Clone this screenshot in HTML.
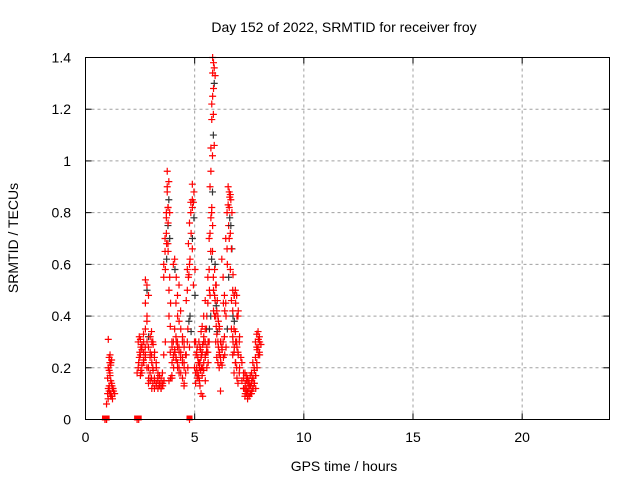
<!DOCTYPE html>
<html><head><meta charset="utf-8"><style>
body{margin:0;background:#fff;}
svg text{font-family:"Liberation Sans",sans-serif;font-size:14px;fill:#000;}
</style></head><body>
<svg id="chart" width="640" height="480" xmlns="http://www.w3.org/2000/svg">
<rect width="640" height="480" fill="#fff"/>
<text x="344" y="32" text-anchor="middle">Day 152 of 2022, SRMTID for receiver froy</text>
<text x="18" y="238" text-anchor="middle" transform="rotate(-90 18 238)">SRMTID / TECUs</text>
<text x="344" y="471" text-anchor="middle">GPS time / hours</text>
<g id="grid"></g><g id="ticks"></g><g id="marks"></g>
<rect x="85.5" y="57.5" width="524" height="362" fill="none" stroke="#000"/>
</svg>
<script>
const xTicks=[0,5,10,15,20];
const yTicks=[0,0.2,0.4,0.6,0.8,1,1.2,1.4];
const yTickLabels=["0","0.2","0.4","0.6","0.8","1","1.2","1.4"];
const times=[0.93,1.00,1.05,1.08,1.12,1.16,1.20,1.25,1.30,
2.40,2.45,2.50,2.55,2.62,2.70,2.78,2.85,2.92,3.00,3.06,3.12,3.20,3.28,3.35,3.42,3.50,3.56,
3.62,3.68,3.74,3.78,3.82,3.86,3.92,
4.00,4.06,4.12,4.18,4.25,4.32,4.40,4.48,4.55,
4.65,4.70,4.75,4.80,4.86,4.93,4.98,5.03,
5.08,5.13,5.18,5.23,5.28,5.33,5.38,5.45,5.52,5.58,
5.64,5.70,5.74,5.78,5.82,5.86,5.90,5.95,6.00,6.05,
6.10,6.16,6.22,6.28,6.34,6.40,6.46,6.52,6.57,6.62,6.67,6.72,6.78,6.84,6.90,6.96,7.02,7.08,
7.20,7.28,7.34,7.40,7.46,7.52,7.58,7.64,7.70,7.76,7.82,7.88,7.94,8.00,4.80];
const values=[[0,0,0],[0.06,0.08],[0.10,0.13,0.16],[0.31,0.18,0.20,0.22,0.12],[0.24,0.21,0.19,0.15,0.11,0.09],[0.25,0.23,0.17,0.14,0.10],[0.22,0.12,0.10,0.08],[0.13,0.11,0.09],[0.12,0.10],
[0,0,0.18,0.22],[0.20,0.26,0.30],[0.24,0.28,0.32,0.19],[0.25,0.29,0.31,0.21,0.17],[0.27,0.33,0.18,0.23],[0.30,0.28,0.26,0.24,0.22],[0.35,0.40,0.45,0.50,0.54,0.30,0.25],[0.52,0.48,0.38,0.32,0.20,0.16],[0.28,0.24,0.20,0.18,0.14],[0.32,0.30,0.26,0.22,0.15,0.12],[0.34,0.29,0.25,0.19,0.16],[0.30,0.24,0.20,0.16,0.14,0.12],[0.26,0.22,0.15,0.13],[0.20,0.18,0.14,0.12],[0.15,0.13,0.16,0.14],[0.17,0.14,0.13,0.12],[0.16,0.14,0.12,0.13],[0.18,0.15,0.13],
[0.60,0.58,0.55,0.30,0.25],[0.70,0.68,0.65,0.62],[0.80,0.82,0.78,0.75,0.72,0.68],[0.96,0.92,0.88,0.85,0.90],[0.82,0.80,0.76,0.70,0.65,0.55],[0.50,0.45,0.40,0.16,0.15],[0.36,0.30,0.26,0.17],
[0.28,0.25,0.22,0.20,0.16],[0.30,0.26,0.24,0.58,0.60],[0.35,0.30,0.27,0.23,0.62,0.55],[0.45,0.40,0.32,0.28,0.24,0.20],[0.48,0.38,0.30,0.26,0.22,0.18],[0.52,0.42,0.28,0.24,0.20],[0.35,0.30,0.26,0.22,0.18],[0.32,0.28,0.24,0.20,0.16,0.14],[0.30,0.25,0.22,0.18,0.13],
[0.46,0.35,0.25,0.20],[0.58,0.56,0.50,0.38,0.30],[0.68,0.62,0.55,0.40],[0.76,0.72,0.60,0.34,0.28],[0.84,0.82,0.80,0.70],[0.91,0.88,0.85,0.78,0.66],[0.84,0.58,0.52,0.48],[0.30,0.25,0.20,0.18],
[0.30,0.28,0.18,0.16,0.14],[0.26,0.22,0.20,0.17],[0.24,0.20,0.18,0.15],[0.30,0.27,0.22,0.19,0.16],[0.28,0.25,0.22,0.20,0.13],[0.34,0.29,0.24,0.20,0.10,0.09],[0.36,0.32,0.26,0.22,0.17],[0.40,0.35,0.30,0.24,0.19,0.15],[0.46,0.40,0.30,0.28,0.25,0.20],[0.35,0.30,0.26,0.22],
[0.55,0.50,0.45,0.35,0.26],[0.70,0.65,0.58,0.40,0.30],[0.90,0.80,0.72,0.62,0.48],[1.05,1.02,0.96,0.88,0.78,0.65],[1.22,1.18,1.16,1.10,0.82,0.55],[1.40,1.36,1.34,1.30,1.25,1.06,0.75],[1.38,1.33,1.28,0.60,0.50,0.46,0.42],[0.58,0.52,0.48,0.44,0.40,0.36],[0.52,0.46,0.40,0.34,0.30],[0.42,0.38,0.33,0.28,0.24],
[0.40,0.36,0.30,0.26,0.22],[0.35,0.30,0.25,0.22,0.20],[0.30,0.27,0.24,0.21,0.11],[0.62,0.45,0.28,0.24],[0.55,0.42,0.30,0.25],[0.48,0.40,0.32,0.28],[0.70,0.60,0.45,0.35],[0.80,0.75,0.66,0.55],[0.90,0.86,0.83,0.78],[0.88,0.85,0.82,0.75,0.70],[0.87,0.80,0.72,0.66,0.58],[0.66,0.56,0.46,0.40,0.35,0.30],[0.50,0.48,0.42,0.38,0.32,0.28,0.25],[0.48,0.45,0.35,0.30,0.26,0.22,0.18],[0.50,0.40,0.34,0.28,0.22,0.16],[0.48,0.42,0.30,0.25,0.20],[0.40,0.32,0.26,0.20,0.14],[0.30,0.24,0.18],
[0.22,0.18,0.15,0.12],[0.16,0.14,0.12,0.10],[0.18,0.15,0.12,0.10,0.09],[0.17,0.14,0.12,0.10],[0.16,0.14,0.11,0.09,0.08],[0.15,0.13,0.12,0.10],[0.17,0.15,0.13,0.11,0.10],[0.18,0.16,0.14,0.12,0.10],[0.22,0.19,0.16,0.14,0.12],[0.20,0.17,0.14,0.12],[0.30,0.27,0.24,0.20,0.17],[0.33,0.31,0.28,0.25,0.22],[0.34,0.30,0.28,0.25],[0.32,0.29,0.26],[0]];
const NS="http://www.w3.org/2000/svg";
const X0=85.5,X1=609.5,Y0=419.5,Y1=57.5,XMAX=24,YMAX=1.4;
function xs(v){return X0+(X1-X0)*v/XMAX;}
function ys(v){return Y0-(Y0-Y1)*v/YMAX;}
function mk(tag,attrs,parent){const e=document.createElementNS(NS,tag);for(const k in attrs)e.setAttribute(k,attrs[k]);parent.appendChild(e);return e;}
const grid=document.getElementById('grid'),ticks=document.getElementById('ticks'),marks=document.getElementById('marks');
xTicks.forEach(t=>{const x=xs(t);
 if(t>0){const g=mk('line',{x1:x,x2:x,y1:Y0,y2:Y1,stroke:'#a0a0a0','stroke-dasharray':'3,3'},grid);
 
 }
 mk('line',{x1:x,x2:x,y1:Y0,y2:Y0-6,stroke:'#000'},ticks);
 mk('line',{x1:x,x2:x,y1:Y1,y2:Y1+6,stroke:'#000'},ticks);
 const l=mk('text',{x:x,y:442,'text-anchor':'middle'},ticks);l.textContent=t;
 
 });
yTicks.forEach((t,i)=>{const y=ys(t);
 if(i>0&&i<yTicks.length-1){const g=mk('line',{x1:X0,x2:X1,y1:y,y2:y,stroke:'#a0a0a0','stroke-dasharray':'3,3'},grid);
 
 }
 mk('line',{x1:X0,x2:X0+6,y1:y,y2:y,stroke:'#000'},ticks);
 mk('line',{x1:X1,x2:X1-6,y1:y,y2:y,stroke:'#000'},ticks);
 const l=mk('text',{x:71,y:y+5,'text-anchor':'end'},ticks);l.textContent=yTickLabels[i];
 
 });
times.forEach((t,i)=>{(values[i]||[]).forEach((v,j)=>{
 const x=xs(t)+(j%2?0.8:-0.8),y=ys(v);
 const p=mk('path',{d:`M${x-3.5},${y}h7M${x},${y-3.5}v7`,stroke:(j%5==3&&v>0.3)?'#333':'#f00','stroke-width':1.2,fill:'none'},marks);
 
 
 if(v===0){const s=mk('rect',{x:x-3,y:y-4,width:6,height:5,fill:'#f00'},marks);
 
 }
});});
</script>
</body></html>
